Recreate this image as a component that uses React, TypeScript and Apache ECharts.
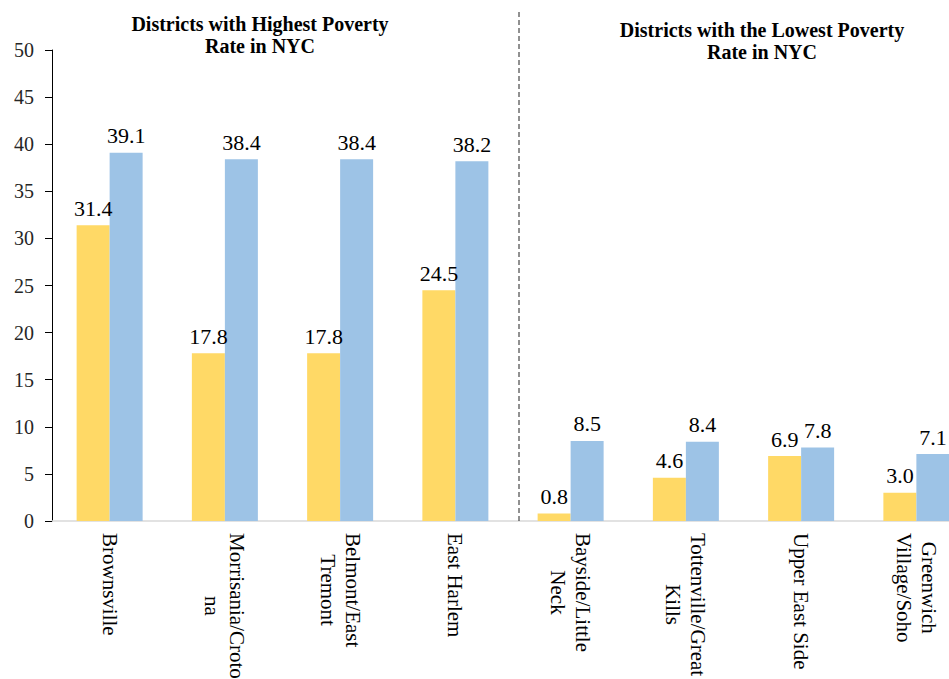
import React, { useEffect, useRef } from "react";
import * as echarts from "echarts";

const categories = [
  "Brownsville",
  "Morrisania/Croto\nna",
  "Belmont/East\nTremont",
  "East Harlem",
  "Bayside/Little\nNeck",
  "Tottenville/Great\nKills",
  "Upper East Side",
  "Greenwich\nVillage/Soho",
];
const yellowValues = [31.4, 17.8, 17.8, 24.5, 0.8, 4.6, 6.9, 3.0];
const blueValues = [39.1, 38.4, 38.4, 38.2, 8.5, 8.4, 7.8, 7.1];
const leftTitle = "Districts with Highest Poverty\nRate in NYC";
const rightTitle = "Districts with the Lowest Poverty\nRate in NYC";

const FONT = "Liberation Serif, Times New Roman, serif";

export default function App() {
  const ref = useRef<HTMLDivElement>(null);
  useEffect(() => {
    document.body.style.margin = "0";
    document.body.style.overflow = "hidden";
    if (!ref.current) return;
    const chart = echarts.init(ref.current, undefined, { renderer: "svg" });
    const labelStyle = {
      show: true,
      position: "top" as const,
      distance: 6,
      fontFamily: FONT,
      fontSize: 22,
      color: "#000",
      formatter: (p: any) => Number(p.value).toFixed(1),
    };
    chart.setOption({
      animation: false,
      backgroundColor: "#fff",
      textStyle: { fontFamily: FONT },
      title: [
        {
          text: leftTitle,
          left: 255,
          top: 8,
          textAlign: "center",
          textStyle: { fontFamily: FONT, fontSize: 20, fontWeight: "bold", color: "#000", lineHeight: 22 },
        },
        {
          text: rightTitle,
          left: 757,
          top: 14,
          textAlign: "center",
          textStyle: { fontFamily: FONT, fontSize: 20, fontWeight: "bold", color: "#000", lineHeight: 22 },
        },
      ],
      grid: {
        left: 52,
        top: 50,
        width: 922,
        height: 471,
        containLabel: false,
        outerBoundsMode: "none",
      },
      xAxis: {
        type: "category",
        data: categories,
        axisLine: { show: true, lineStyle: { color: "#d9d9d9", width: 1.5 } },
        axisTick: { show: false },
        axisLabel: {
          interval: 0,
          rotate: -90,
          margin: 12,
          color: "#000",
          formatter: (v: string) =>
            v
              .split("\n")
              .map((line) => "{c|" + line + "}")
              .join("\n"),
          rich: {
            c: {
              align: "center",
              fontFamily: FONT,
              fontSize: 21,
              lineHeight: 25,
              color: "#000",
            },
          },
        },
      },
      yAxis: {
        type: "value",
        min: 0,
        max: 50,
        interval: 5,
        splitLine: { show: false },
        axisLine: { show: true, lineStyle: { color: "#000", width: 1 } },
        axisTick: { show: true, length: 7, lineStyle: { color: "#000" } },
        axisLabel: { margin: 18, fontFamily: FONT, fontSize: 20, color: "#262626" },
      },
      series: [
        {
          type: "bar",
          data: yellowValues,
          barWidth: 33,
          barGap: "0%",
          itemStyle: { color: "#FFD966" },
          label: labelStyle,
        },
        {
          type: "bar",
          data: blueValues,
          barWidth: 33,
          barGap: "0%",
          itemStyle: { color: "#9DC3E6" },
          label: labelStyle,
        },
      ],
      graphic: [
        {
          type: "line",
          shape: { x1: 519, y1: 12, x2: 519, y2: 521 },
          style: { stroke: "#222", lineWidth: 1, lineDash: [5, 3] },
          z: 10,
        },
      ],
    });
    return () => chart.dispose();
  }, []);
  return (
    <div
      ref={ref}
      style={{ width: 949, height: 679, position: "absolute", left: 0, top: 0 }}
    />
  );
}
